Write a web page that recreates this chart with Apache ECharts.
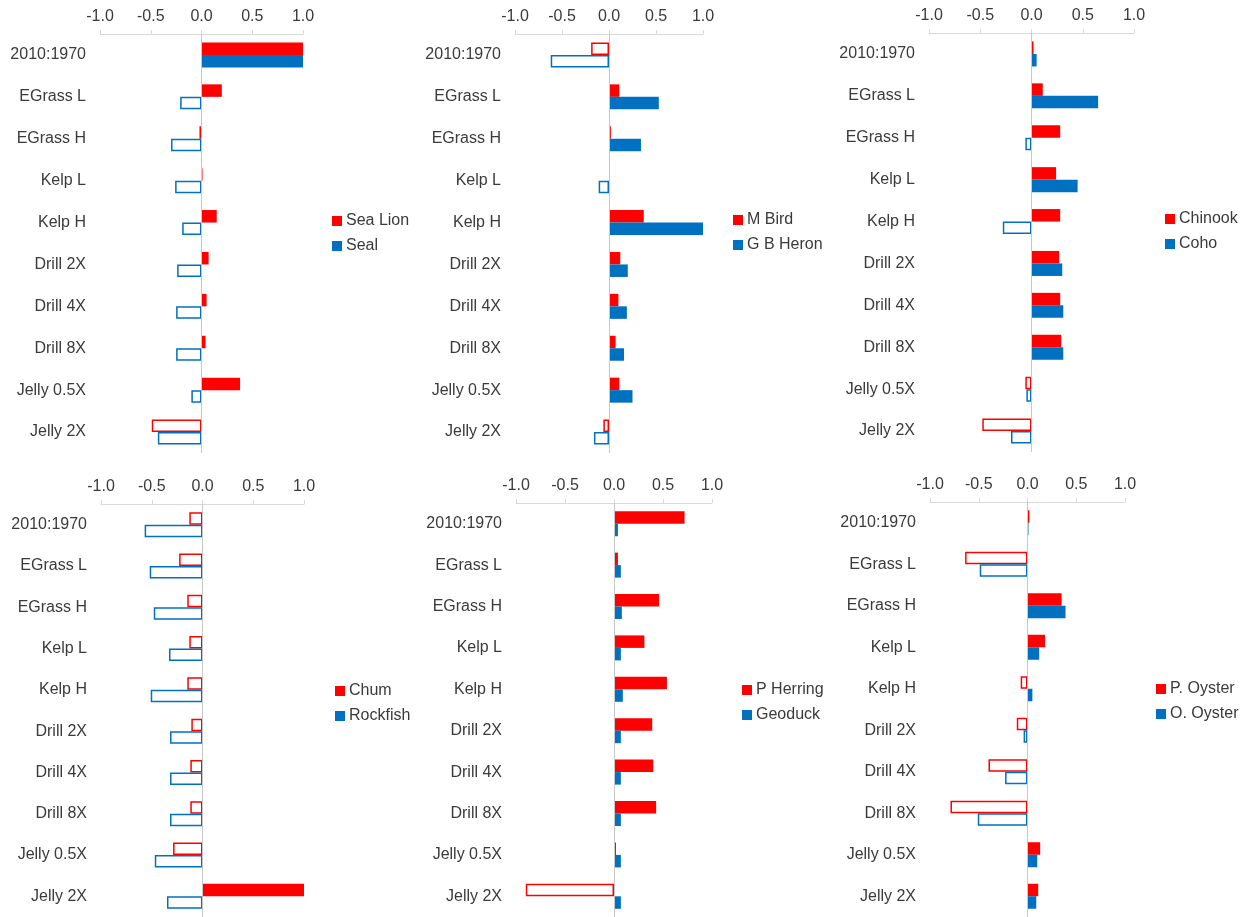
<!DOCTYPE html>
<html>
<head>
<meta charset="utf-8">
<script src="https://cdn.jsdelivr.net/npm/echarts@6/dist/echarts.min.js"></script>
<style>
html,body{margin:0;padding:0;background:#fff;}
#c{width:1252px;height:917px;}
</style>
</head>
<body>
<div id="c"></div>
<script>
var categories = ['2010:1970','EGrass L','EGrass H','Kelp L','Kelp H','Drill 2X','Drill 4X','Drill 8X','Jelly 0.5X','Jelly 2X'];
var tickValues = [-1.0, -0.5, 0.0, 0.5, 1.0];

var seaLion  = [1.00, 0.20, -0.02, 0.01, 0.15, 0.07, 0.05, 0.04, 0.38, -0.49];
var seal     = [1.00, -0.21, -0.30, -0.26, -0.19, -0.24, -0.25, -0.25, -0.10, -0.43];
var mBird    = [-0.19, 0.11, 0.02, 0.01, 0.37, 0.12, 0.10, 0.07, 0.11, -0.06];
var gbHeron  = [-0.62, 0.53, 0.34, -0.11, 1.00, 0.20, 0.19, 0.16, 0.25, -0.16];
var chinook  = [0.02, 0.11, 0.28, 0.24, 0.28, 0.27, 0.28, 0.29, -0.06, -0.48];
var coho     = [0.05, 0.65, -0.06, 0.45, -0.28, 0.30, 0.31, 0.31, -0.05, -0.20];
var chum     = [-0.13, -0.23, -0.15, -0.13, -0.15, -0.11, -0.12, -0.12, -0.29, 1.00];
var rockfish = [-0.57, -0.52, -0.48, -0.33, -0.51, -0.32, -0.32, -0.32, -0.47, -0.35];
var pHerring = [0.72, 0.04, 0.46, 0.31, 0.54, 0.39, 0.40, 0.43, 0.02, -0.90];
var geoduck  = [0.04, 0.07, 0.08, 0.07, 0.09, 0.07, 0.07, 0.07, 0.07, 0.07];
var pOyster  = [0.02, -0.64, 0.35, 0.18, -0.07, -0.11, -0.40, -0.79, 0.13, 0.11];
var oOyster  = [0.01, -0.49, 0.39, 0.12, 0.05, -0.04, -0.23, -0.51, 0.10, 0.09];

var panels = [
  {names:['Sea Lion','Seal'], data:[seaLion, seal], grid:{left:100, top:34, width:203}, legend:{left:332, top:213}},
  {names:['M Bird','G B Heron'], data:[mBird, gbHeron], grid:{left:515, top:34, width:188}, legend:{left:733, top:212}},
  {names:['Chinook','Coho'], data:[chinook, coho], grid:{left:929, top:33, width:205}, legend:{left:1165, top:211}},
  {names:['Chum','Rockfish'], data:[chum, rockfish], grid:{left:101, top:504, width:203}, legend:{left:335, top:683}},
  {names:['P Herring','Geoduck'], data:[pHerring, geoduck], grid:{left:516, top:503, width:196}, legend:{left:742, top:682}},
  {names:['P. Oyster','O. Oyster'], data:[pOyster, oOyster], grid:{left:930, top:502, width:195}, legend:{left:1156, top:681}}
];

var colors = ['#FF0000', '#0070C0'];
var FONT = 'Liberation Sans, Arial, sans-serif';
var TXT = '#3a3a3a';

var option = {
  animation: false,
  backgroundColor: '#ffffff',
  textStyle: {fontFamily: FONT},
  grid: [], xAxis: [], yAxis: [], series: [], legend: []
};

panels.forEach(function(p, i) {
  option.grid.push({left: p.grid.left, top: p.grid.top, width: p.grid.width, height: 419, containLabel: false});
  option.xAxis.push({
    type: 'value', gridIndex: i, position: 'top', min: -1, max: 1, interval: 0.5,
    axisLine: {show: true, onZero: false, lineStyle: {color: '#d9d9d9', width: 1}},
    axisTick: {show: true, length: 4, lineStyle: {color: '#d9d9d9'}},
    splitLine: {show: false},
    axisLabel: {color: TXT, fontSize: 16, fontFamily: FONT, margin: 9,
      formatter: function(v){ return v.toFixed(1); }}
  });
  option.yAxis.push({
    type: 'category', gridIndex: i, data: categories, inverse: true,
    axisLine: {show: false, onZero: false}, axisTick: {show: false}, splitLine: {show: false},
    axisLabel: {color: TXT, fontSize: 16, fontFamily: FONT, margin: 14}
  });
  p.names.forEach(function(name, k) {
    var c = colors[k];
    var s = {
      name: name, type: 'bar', xAxisIndex: i, yAxisIndex: i,
      barWidth: 12.5, barGap: '0%',
      itemStyle: {color: c},
      data: p.data[k].map(function(v) {
        if (v < 0) return {value: v, itemStyle: {color: '#ffffff', borderColor: c, borderWidth: 1.5}};
        return {value: v, itemStyle: {color: c}};
      })
    };
    if (k === 0) {
      s.markLine = {silent: true, symbol: ['none','none'], label: {show: false},
        lineStyle: {color: '#c8c8c8', width: 1, type: 'solid'},
        data: [{xAxis: 0}]};
    }
    option.series.push(s);
  });
  option.legend.push({
    orient: 'vertical', left: p.legend.left, top: p.legend.top, padding: 0,
    itemWidth: 10, itemHeight: 10, itemGap: 9, icon: 'rect',
    textStyle: {color: TXT, fontSize: 16, fontFamily: FONT, lineHeight: 16, padding: [0,0,0,-1]},
    data: p.names.map(function(n, k){ return {name: n, itemStyle: {color: colors[k], borderWidth: 0}}; })
  });
});

var chart = echarts.init(document.getElementById('c'), null, {renderer: 'canvas'});
chart.setOption(option);
</script>
</body>
</html>
